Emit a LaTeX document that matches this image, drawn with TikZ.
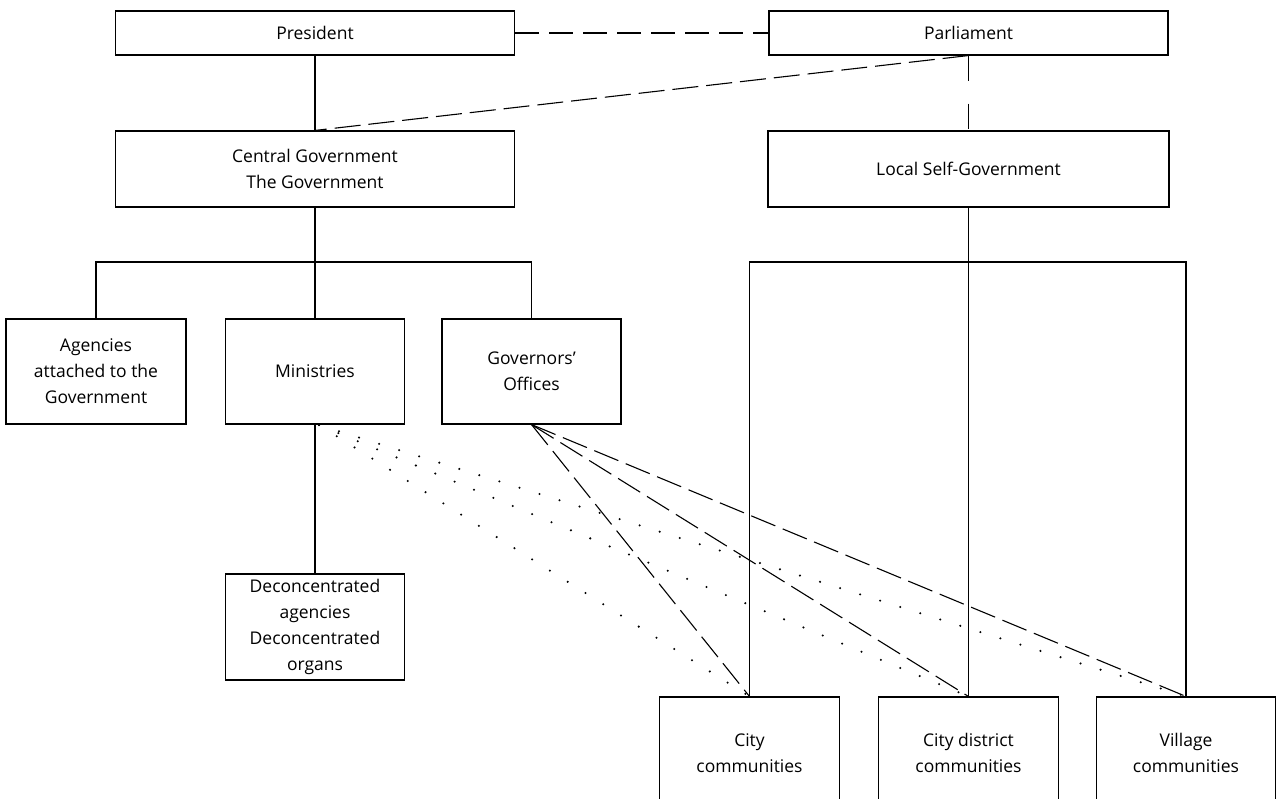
\documentclass[tikz,border=0pt]{standalone}
\usepackage{fontspec}
\setmainfont{Open Sans}
\begin{document}
\begin{tikzpicture}[x=1pt,y=-1pt,
  box/.style={draw, line width=1.1pt, inner sep=0pt, align=center,
    font=\fontsize{17.5}{26}\selectfont},
  solidline/.style={line width=1.1pt},
  longdash/.style={line width=1.1pt, dash pattern=on 24pt off 10pt},
  diagdash/.style={line width=1.1pt, dash pattern=on 26pt off 8pt},
  vdash/.style={line width=1.1pt, dash pattern=on 25pt off 23pt},
  dotline/.style={line width=2.3pt, line cap=round, dash pattern=on 0pt off 21pt}
]
\useasboundingbox (0,0) rectangle (1276,799);
\clip (0,0) rectangle (1276,799);

\node[box, minimum width=399pt, minimum height=44pt] (president) at (315,33) {President};
\node[box, minimum width=399pt, minimum height=44pt] (parliament) at (968.5,33) {Parliament};
\node[box, minimum width=399pt, minimum height=76pt] (central) at (315,169) {Central Government\\The Government};
\node[box, minimum width=401pt, minimum height=76pt] (local) at (968.5,169) {Local Self-Government};

\node[box, minimum width=180pt, minimum height=105pt] (agencies) at (96,371.5) {Agencies\\attached to the\\Government};
\node[box, minimum width=179pt, minimum height=105pt] (ministries) at (315,371.5) {Ministries};
\node[box, minimum width=179pt, minimum height=105pt] (governors) at (531.5,371.5) {Governors'\\Offices};
\node[box, minimum width=179pt, minimum height=106pt] (decon) at (315,627) {Deconcentrated\\agencies\\Deconcentrated\\organs};

\node[box, minimum width=180pt, minimum height=112pt] (city) at (749.5,753) {City\\communities};
\node[box, minimum width=180pt, minimum height=112pt] (citydist) at (968.5,753) {City district\\communities};
\node[box, minimum width=179pt, minimum height=112pt] (village) at (1186,753) {Village\\communities};

\coordinate (cbar) at (315,262);
\coordinate (lbar) at (968.5,262);
\coordinate (mstart) at (319,425);

% solid hierarchy
\draw[solidline] (president.south) -- (central.north);
\draw[solidline] (central.south) -- (ministries.north);
\draw[solidline] (agencies.north) -- (agencies.north |- cbar) -- (governors.north |- cbar) -- (governors.north);
\draw[solidline] (ministries.south) -- (decon.north);
\draw[solidline] (local.south) -- (citydist.north);
\draw[solidline] (city.north) -- (city.north |- lbar) -- (village.north |- lbar) -- (village.north);

% dashed relations
\draw[longdash] (president.east) -- (parliament.west);
\draw[diagdash] (parliament.south) -- (central.north);
\draw[vdash] (parliament.south) -- (local.north);

\draw[diagdash] (governors.south) -- (city.north);
\draw[diagdash] (governors.south) -- (citydist.north);
\draw[diagdash] (governors.south) -- (village.north);

% dotted relations
\draw[dotline] (mstart) -- (city.north);
\draw[dotline] (mstart) -- (citydist.north);
\draw[dotline] (mstart) -- (village.north);
\end{tikzpicture}
\end{document}
